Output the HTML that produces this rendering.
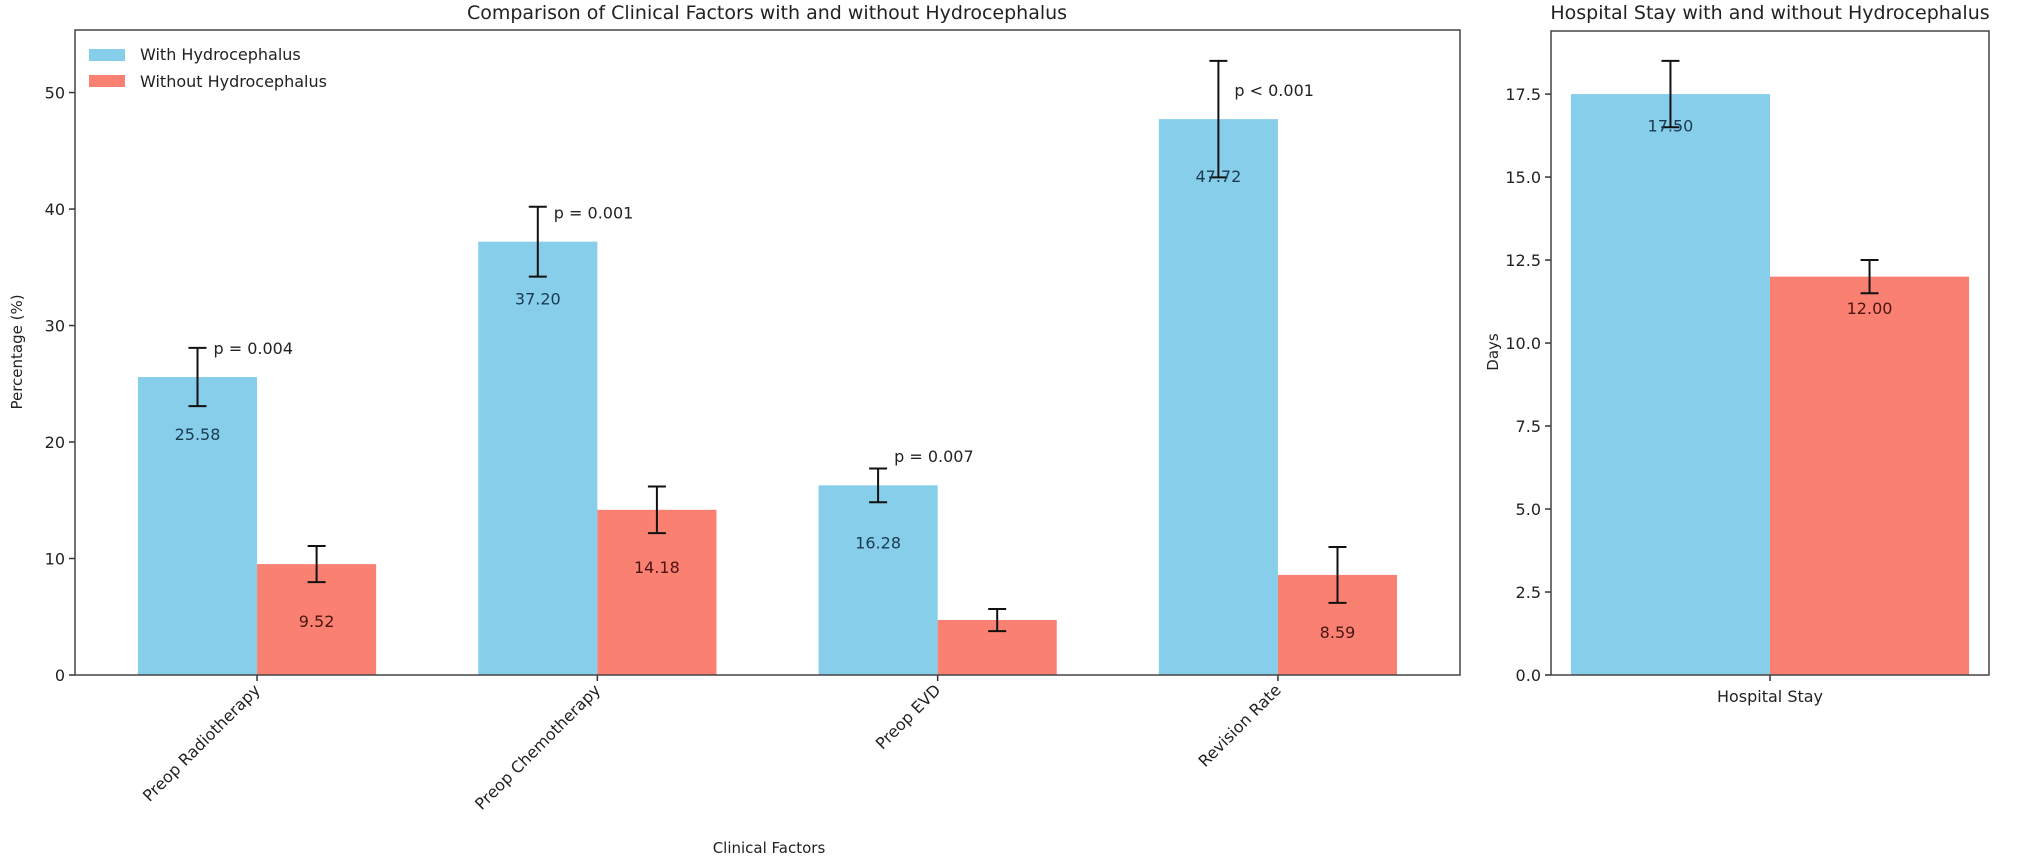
<!DOCTYPE html>
<html><head><meta charset="utf-8"><style>
body{margin:0;background:#fff;}
svg{display:block;font-family:"DejaVu Sans","Liberation Sans",sans-serif;}
</style></head><body>
<svg id="chart" width="2032" height="860" viewBox="0 0 2032 860" xmlns="http://www.w3.org/2000/svg">
<text x="767" y="19" text-anchor="middle" font-size="19" fill="#222">Comparison of Clinical Factors with and without Hydrocephalus</text>
<text x="1770" y="19" text-anchor="middle" font-size="19" fill="#222">Hospital Stay with and without Hydrocephalus</text>
<text x="769" y="853" text-anchor="middle" font-size="15" fill="#222">Clinical Factors</text>
<text transform="translate(22,352) rotate(-90)" text-anchor="middle" font-size="15" fill="#222">Percentage (%)</text>
<text transform="translate(1498,352) rotate(-90)" text-anchor="middle" font-size="15" fill="#222">Days</text>
<g id="left"></g>
<g id="right"></g>
<g>
<rect x="89" y="49" width="36" height="12" fill="#87ceeb"/>
<text x="140" y="60" font-size="16" fill="#222">With Hydrocephalus</text>
<rect x="89" y="75" width="36" height="12" fill="#fa8072"/>
<text x="140" y="87" font-size="16" fill="#222">Without Hydrocephalus</text>
</g>
</svg>
<script>
const categories = ["Preop Radiotherapy","Preop Chemotherapy","Preop EVD","Revision Rate"];
const withValues = [25.58, 37.20, 16.28, 47.72];
const withErrors = [2.5, 3.0, 1.45, 5.0];
const withoutValues = [9.52, 14.18, 4.72, 8.59];
const withoutErrors = [1.55, 2.0, 0.95, 2.4];
const pLabels = ["p = 0.004","p = 0.001","p = 0.007","p < 0.001"];
const leftTicks = [0,10,20,30,40,50];
const stayCategory = ["Hospital Stay"];
const stayValues = [17.50, 12.00];
const stayErrors = [1.0, 0.5];
const rightTicks = [0.0,2.5,5.0,7.5,10.0,12.5,15.0,17.5];

const NS="http://www.w3.org/2000/svg";
function mk(parent,tag,attrs,text){const e=document.createElementNS(NS,tag);for(const k in attrs)e.setAttribute(k,attrs[k]);if(text!==undefined)e.textContent=text;parent.appendChild(e);return e;}

// left axes
const L={x0:75,x1:1460,y0:30,y1:675,xmin:-0.535,xmax:3.535,ymax:55.37};
const lx=v=>L.x0+(v-L.xmin)/(L.xmax-L.xmin)*(L.x1-L.x0);
const ly=v=>L.y1-v/L.ymax*(L.y1-L.y0);
const W=0.35;
const left=document.getElementById('left');
function errbar(g,x,v,e,name){
  const p=mk(g,'path',{d:`M${x},${ly(v-e)}V${ly(v+e)}M${x-9},${ly(v-e)}h18M${x-9},${ly(v+e)}h18`,stroke:'#111','stroke-width':2,fill:'none'});
  
  
}
categories.forEach((c,i)=>{
  const b1=mk(left,'rect',{x:lx(i-W),y:ly(withValues[i]),width:lx(i)-lx(i-W),height:ly(0)-ly(withValues[i]),fill:'#87ceeb'});
  
  
  const b2=mk(left,'rect',{x:lx(i),y:ly(withoutValues[i]),width:lx(i+W)-lx(i),height:ly(0)-ly(withoutValues[i]),fill:'#fa8072'});
  
  
  const cx1=lx(i-W/2), cx2=lx(i+W/2);
  errbar(left,cx1,withValues[i],withErrors[i],'errorbar-with-'+i);
  errbar(left,cx2,withoutValues[i],withoutErrors[i],'errorbar-without-'+i);
  const t1=mk(left,'text',{x:cx1,y:ly(withValues[i]-4.9)+6,'text-anchor':'middle','font-size':16,fill:'#1a3a50'},withValues[i].toFixed(2));
  
  
  const t2=mk(left,'text',{x:cx2,y:ly(withoutValues[i]-4.9)+6,'text-anchor':'middle','font-size':16,fill:'#4a1510'},withoutValues[i]>6?withoutValues[i].toFixed(2):'');
  
  
  const pt=mk(left,'text',{x:cx1+16,y:ly(withValues[i]+2.5)+6,'font-size':16,fill:'#222'},pLabels[i]);
  
  
  const tk=mk(left,'line',{x1:lx(i),x2:lx(i),y1:L.y1,y2:L.y1+6,stroke:'#333','stroke-width':1.5});
  
  
  const tl=mk(left,'text',{transform:`translate(${lx(i)+4},${L.y1+16}) rotate(-45)`,'text-anchor':'end','font-size':16,fill:'#222'},c);
  
  
});
leftTicks.forEach(t=>{
  const l=mk(left,'line',{x1:L.x0-6,x2:L.x0,y1:ly(t),y2:ly(t),stroke:'#333','stroke-width':1.5});
  
  
  const tx=mk(left,'text',{x:L.x0-10,y:ly(t)+6,'text-anchor':'end','font-size':16,fill:'#222'},t);
  
  
});
const fr=mk(left,'rect',{x:L.x0,y:L.y0,width:L.x1-L.x0,height:L.y1-L.y0,fill:'none',stroke:'#444','stroke-width':1.5});



// right axes
const R={x0:1551,x1:1989,y0:31,y1:675,xmin:-0.385,xmax:0.385,ymax:19.4};
const rx=v=>R.x0+(v-R.xmin)/(R.xmax-R.xmin)*(R.x1-R.x0);
const ry=v=>R.y1-v/R.ymax*(R.y1-R.y0);
const right=document.getElementById('right');
const colors=['#87ceeb','#fa8072'], tcol=['#1a3a50','#4a1510'];
stayValues.forEach((v,j)=>{
  const xa=j===0?rx(-W):rx(0), xb=j===0?rx(0):rx(W);
  const b=mk(right,'rect',{x:xa,y:ry(v),width:xb-xa,height:ry(0)-ry(v),fill:colors[j]});
  
  
  const cx=(xa+xb)/2, e=stayErrors[j];
  const p=mk(right,'path',{d:`M${cx},${ry(v-e)}V${ry(v+e)}M${cx-9},${ry(v-e)}h18M${cx-9},${ry(v+e)}h18`,stroke:'#111','stroke-width':2,fill:'none'});
  
  
  const t=mk(right,'text',{x:cx,y:ry(v-0.95)+6,'text-anchor':'middle','font-size':16,fill:tcol[j]},v.toFixed(2));
  
  
});
rightTicks.forEach(t=>{
  const l=mk(right,'line',{x1:R.x0-6,x2:R.x0,y1:ry(t),y2:ry(t),stroke:'#333','stroke-width':1.5});
  
  
  const tx=mk(right,'text',{x:R.x0-10,y:ry(t)+6,'text-anchor':'end','font-size':16,fill:'#222'},t.toFixed(1));
  
  
});
const rtk=mk(right,'line',{x1:rx(0),x2:rx(0),y1:R.y1,y2:R.y1+6,stroke:'#333','stroke-width':1.5});


const rtl=mk(right,'text',{x:rx(0),y:R.y1+27,'text-anchor':'middle','font-size':16,fill:'#222'},stayCategory[0]);


const rfr=mk(right,'rect',{x:R.x0,y:R.y0,width:R.x1-R.x0,height:R.y1-R.y0,fill:'none',stroke:'#444','stroke-width':1.5});


</script>
</body></html>
